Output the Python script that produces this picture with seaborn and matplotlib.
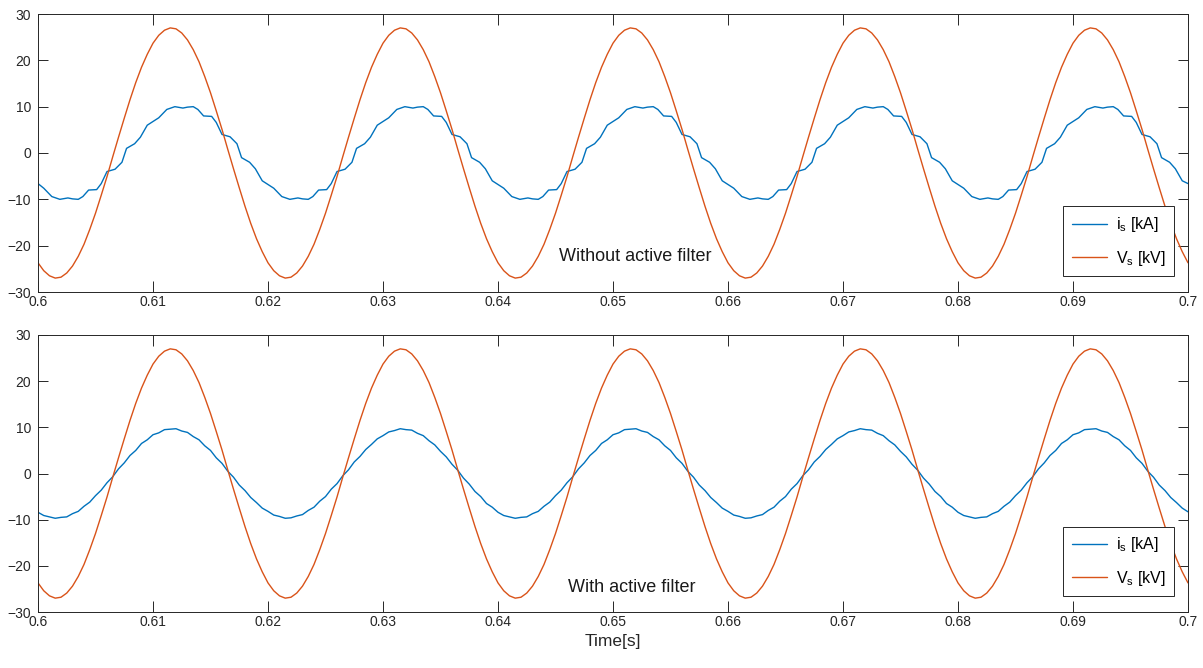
import numpy as np
import pandas as pd
import matplotlib
matplotlib.use("Agg")
import matplotlib.pyplot as plt
import seaborn as sns

# ---------------- data ----------------
# sampling grid for the source voltage and filtered current: 0.600 s .. 0.700 s, 0.5 ms step
t_grid_ms = np.arange(600.0, 700.0 + 0.25, 0.5)

# source voltage Vs [kV] (same in both panels)
vs_kv = [
    -23.7, -25.4, -26.5, -27.0, -26.8, -25.9, -24.4, -22.3, -19.7, -16.5, -13.0, -9.1, -5.1, -0.8, 3.4, 7.5, 11.5, 15.2, 18.5, 21.3,
    23.7, 25.4, 26.5, 27.0, 26.8, 25.9, 24.4, 22.3, 19.7, 16.5, 13.0, 9.1, 5.1, 0.8, -3.4, -7.5, -11.5, -15.2, -18.5, -21.3,
    -23.7, -25.4, -26.5, -27.0, -26.8, -25.9, -24.4, -22.3, -19.7, -16.5, -13.0, -9.1, -5.1, -0.8, 3.4, 7.5, 11.5, 15.2, 18.5, 21.3,
    23.7, 25.4, 26.5, 27.0, 26.8, 25.9, 24.4, 22.3, 19.7, 16.5, 13.0, 9.1, 5.1, 0.8, -3.4, -7.5, -11.5, -15.2, -18.5, -21.3,
    -23.7, -25.4, -26.5, -27.0, -26.8, -25.9, -24.4, -22.3, -19.7, -16.5, -13.0, -9.1, -5.1, -0.8, 3.4, 7.5, 11.5, 15.2, 18.5, 21.3,
    23.7, 25.4, 26.5, 27.0, 26.8, 25.9, 24.4, 22.3, 19.7, 16.5, 13.0, 9.1, 5.1, 0.8, -3.4, -7.5, -11.5, -15.2, -18.5, -21.3,
    -23.7, -25.4, -26.5, -27.0, -26.8, -25.9, -24.4, -22.3, -19.7, -16.5, -13.0, -9.1, -5.1, -0.8, 3.4, 7.5, 11.5, 15.2, 18.5, 21.3,
    23.7, 25.4, 26.5, 27.0, 26.8, 25.9, 24.4, 22.3, 19.7, 16.5, 13.0, 9.1, 5.1, 0.8, -3.4, -7.5, -11.5, -15.2, -18.5, -21.3,
    -23.7, -25.4, -26.5, -27.0, -26.8, -25.9, -24.4, -22.3, -19.7, -16.5, -13.0, -9.1, -5.1, -0.8, 3.4, 7.5, 11.5, 15.2, 18.5, 21.3,
    23.7, 25.4, 26.5, 27.0, 26.8, 25.9, 24.4, 22.3, 19.7, 16.5, 13.0, 9.1, 5.1, 0.8, -3.4, -7.5, -11.5, -15.2, -18.5, -21.3,
    -23.7,
]

# source current with active filter [kA]
is_filter_ka = [
    -8.4, -9.1, -9.4, -9.7, -9.5, -9.4, -8.7, -8.2, -7.1, -6.2, -4.8, -3.6, -2.0, -0.7, 1.0, 2.3, 3.9, 5.0, 6.5, 7.3,
    8.4, 8.8, 9.5, 9.6, 9.7, 9.2, 8.9, 8.0, 7.3, 6.0, 5.0, 3.4, 2.2, 0.5, -0.8, -2.5, -3.7, -5.2, -6.3, -7.5,
    -8.2, -9.0, -9.3, -9.7, -9.6, -9.2, -8.9, -8.0, -7.3, -6.0, -5.0, -3.4, -2.2, -0.5, 0.8, 2.5, 3.7, 5.2, 6.3, 7.5,
    8.2, 9.0, 9.3, 9.7, 9.5, 9.4, 8.7, 8.2, 7.1, 6.2, 4.8, 3.6, 2.0, 0.7, -1.0, -2.3, -3.9, -5.0, -6.5, -7.3,
    -8.4, -9.1, -9.4, -9.7, -9.5, -9.4, -8.7, -8.2, -7.1, -6.2, -4.8, -3.6, -2.0, -0.7, 1.0, 2.3, 3.9, 5.0, 6.5, 7.3,
    8.4, 8.8, 9.5, 9.6, 9.7, 9.2, 8.9, 8.0, 7.3, 6.0, 5.0, 3.4, 2.2, 0.5, -0.8, -2.5, -3.7, -5.2, -6.3, -7.5,
    -8.2, -9.0, -9.3, -9.7, -9.6, -9.2, -8.9, -8.0, -7.3, -6.0, -5.0, -3.4, -2.2, -0.5, 0.8, 2.5, 3.7, 5.2, 6.3, 7.5,
    8.2, 9.0, 9.3, 9.7, 9.5, 9.4, 8.7, 8.2, 7.1, 6.2, 4.8, 3.6, 2.0, 0.7, -1.0, -2.3, -3.9, -5.0, -6.5, -7.3,
    -8.4, -9.1, -9.4, -9.7, -9.5, -9.4, -8.7, -8.2, -7.1, -6.2, -4.8, -3.6, -2.0, -0.7, 1.0, 2.3, 3.9, 5.0, 6.5, 7.3,
    8.4, 8.8, 9.5, 9.6, 9.7, 9.2, 8.9, 8.0, 7.3, 6.0, 5.0, 3.4, 2.2, 0.5, -0.8, -2.5, -3.7, -5.2, -6.3, -7.5,
    -8.3,
]

# source current without active filter [kA] (distorted), breakpoints in ms
t_nofilter_ms = [
    600.0, 600.5, 601.2, 601.9, 602.6, 603.0, 603.5, 603.9, 604.4, 605.1, 605.5, 606.0, 606.7, 607.3, 607.7, 608.4, 608.9,
    609.5, 610.5, 611.2, 611.9, 612.6, 613.0, 613.5, 613.9, 614.4, 615.1, 615.5, 616.0, 616.7, 617.3, 617.7, 618.4, 618.9, 619.5,
    620.5, 621.2, 621.9, 622.6, 623.0, 623.5, 623.9, 624.4, 625.1, 625.5, 626.0, 626.7, 627.3, 627.7, 628.4, 628.9,
    629.5, 630.5, 631.2, 631.9, 632.6, 633.0, 633.5, 633.9, 634.4, 635.1, 635.5, 636.0, 636.7, 637.3, 637.7, 638.4, 638.9, 639.5,
    640.5, 641.2, 641.9, 642.6, 643.0, 643.5, 643.9, 644.4, 645.1, 645.5, 646.0, 646.7, 647.3, 647.7, 648.4, 648.9,
    649.5, 650.5, 651.2, 651.9, 652.6, 653.0, 653.5, 653.9, 654.4, 655.1, 655.5, 656.0, 656.7, 657.3, 657.7, 658.4, 658.9, 659.5,
    660.5, 661.2, 661.9, 662.6, 663.0, 663.5, 663.9, 664.4, 665.1, 665.5, 666.0, 666.7, 667.3, 667.7, 668.4, 668.9,
    669.5, 670.5, 671.2, 671.9, 672.6, 673.0, 673.5, 673.9, 674.4, 675.1, 675.5, 676.0, 676.7, 677.3, 677.7, 678.4, 678.9, 679.5,
    680.5, 681.2, 681.9, 682.6, 683.0, 683.5, 683.9, 684.4, 685.1, 685.5, 686.0, 686.7, 687.3, 687.7, 688.4, 688.9,
    689.5, 690.5, 691.2, 691.9, 692.6, 693.0, 693.5, 693.9, 694.4, 695.1, 695.5, 696.0, 696.7, 697.3, 697.7, 698.4, 698.9, 699.5,
    700.0,
]
is_nofilter_ka = [
    -6.6, -7.6, -9.4, -10.0, -9.7, -9.9, -10.0, -9.4, -8.0, -7.9, -6.6, -4.0, -3.5, -2.0, 1.0, 2.0, 3.4,
    6.0, 7.6, 9.4, 10.0, 9.7, 9.9, 10.0, 9.4, 8.0, 7.9, 6.6, 4.0, 3.5, 2.0, -1.0, -2.0, -3.4, -6.0,
    -7.6, -9.4, -10.0, -9.7, -9.9, -10.0, -9.4, -8.0, -7.9, -6.6, -4.0, -3.5, -2.0, 1.0, 2.0, 3.4,
    6.0, 7.6, 9.4, 10.0, 9.7, 9.9, 10.0, 9.4, 8.0, 7.9, 6.6, 4.0, 3.5, 2.0, -1.0, -2.0, -3.4, -6.0,
    -7.6, -9.4, -10.0, -9.7, -9.9, -10.0, -9.4, -8.0, -7.9, -6.6, -4.0, -3.5, -2.0, 1.0, 2.0, 3.4,
    6.0, 7.6, 9.4, 10.0, 9.7, 9.9, 10.0, 9.4, 8.0, 7.9, 6.6, 4.0, 3.5, 2.0, -1.0, -2.0, -3.4, -6.0,
    -7.6, -9.4, -10.0, -9.7, -9.9, -10.0, -9.4, -8.0, -7.9, -6.6, -4.0, -3.5, -2.0, 1.0, 2.0, 3.4,
    6.0, 7.6, 9.4, 10.0, 9.7, 9.9, 10.0, 9.4, 8.0, 7.9, 6.6, 4.0, 3.5, 2.0, -1.0, -2.0, -3.4, -6.0,
    -7.6, -9.4, -10.0, -9.7, -9.9, -10.0, -9.4, -8.0, -7.9, -6.6, -4.0, -3.5, -2.0, 1.0, 2.0, 3.4,
    6.0, 7.6, 9.4, 10.0, 9.7, 9.9, 10.0, 9.4, 8.0, 7.9, 6.6, 4.0, 3.5, 2.0, -1.0, -2.0, -3.4, -6.0,
    -6.6,
]

x_ticks = [0.60, 0.61, 0.62, 0.63, 0.64, 0.65, 0.66, 0.67, 0.68, 0.69, 0.70]
x_tick_labels = ["0.6", "0.61", "0.62", "0.63", "0.64", "0.65", "0.66", "0.67", "0.68", "0.69", "0.7"]
y_ticks = [-30, -20, -10, 0, 10, 20, 30]
panel_titles = ["Without active filter", "With active filter"]
legend_labels = [r"i$_\mathregular{s}$ [kA]", r"V$_\mathregular{s}$ [kV]"]
x_label = "Time[s]"

# ---------------- styling ----------------
sns.set_theme(style="white")
plt.rcParams["font.family"] = ["Liberation Sans", "DejaVu Sans"]
plt.rcParams.update({
    "axes.edgecolor": "#262626",
    "axes.linewidth": 0.7,
    "xtick.direction": "in",
    "ytick.direction": "in",
    "xtick.top": True,
    "ytick.right": True,
    "xtick.bottom": True,
    "ytick.left": True,
    "xtick.major.size": 8,
    "ytick.major.size": 7,
    "xtick.major.width": 0.7,
    "ytick.major.width": 0.7,
    "xtick.color": "#262626",
    "ytick.color": "#262626",
    "xtick.labelsize": 10,
    "ytick.labelsize": 10,
    "xtick.major.pad": 2.5,
    "ytick.major.pad": 5,
    "mathtext.fontset": "custom",
    "mathtext.rm": "Liberation Sans",
})

BLUE = "#0072BD"
ORANGE = "#D95319"

fig = plt.figure(figsize=(12.03, 6.68), dpi=100)
ax_top = fig.add_axes([38 / 1203, 1 - 292 / 668, 1150 / 1203, 278 / 668])
ax_bot = fig.add_axes([38 / 1203, 1 - 612 / 668, 1150 / 1203, 277 / 668])

t_grid_s = t_grid_ms / 1000.0
df_v = pd.DataFrame({"t": t_grid_s, "v": vs_kv})
df_f = pd.DataFrame({"t": t_grid_s, "i": is_filter_ka})
df_n = pd.DataFrame({"t": np.array(t_nofilter_ms) / 1000.0, "i": is_nofilter_ka})

panels = [(ax_top, df_n), (ax_bot, df_f)]
text_pos = [(0.6519, -22.4), (0.6516, -24.7)]
for k, (ax, df_i) in enumerate(panels):
    sns.lineplot(data=df_i, x="t", y="i", ax=ax, color=BLUE, linewidth=1.0,
                 estimator=None, sort=False, label=legend_labels[0])
    sns.lineplot(data=df_v, x="t", y="v", ax=ax, color=ORANGE, linewidth=1.0,
                 estimator=None, sort=False, label=legend_labels[1])
    ax.set_xlim(0.6, 0.7)
    ax.set_ylim(-30, 30)
    ax.set_xticks(x_ticks)
    ax.set_xticklabels(x_tick_labels)
    ax.set_yticks(y_ticks)
    ax.set_ylabel("")
    ax.set_xlabel("")
    for s in ax.spines.values():
        s.set_visible(True)
        s.set_color("#262626")
    leg = ax.legend(loc="lower right", bbox_to_anchor=(0.988, 0.056), borderaxespad=0,
                    fontsize=11.5, frameon=True, fancybox=False, framealpha=1,
                    edgecolor="#262626", handlelength=2.2, handletextpad=0.55,
                    labelspacing=0.9, borderpad=0.55)
    leg.get_frame().set_linewidth(0.7)
    for txt in leg.get_texts():
        txt.set_color("#000000")
    ax.text(text_pos[k][0], text_pos[k][1], panel_titles[k],
            ha="center", va="center", fontsize=13, color="#1a1a1a")

ax_bot.set_xlabel(x_label, fontsize=12.5, color="#262626", labelpad=3)

fig.savefig("out.png", dpi=100)
